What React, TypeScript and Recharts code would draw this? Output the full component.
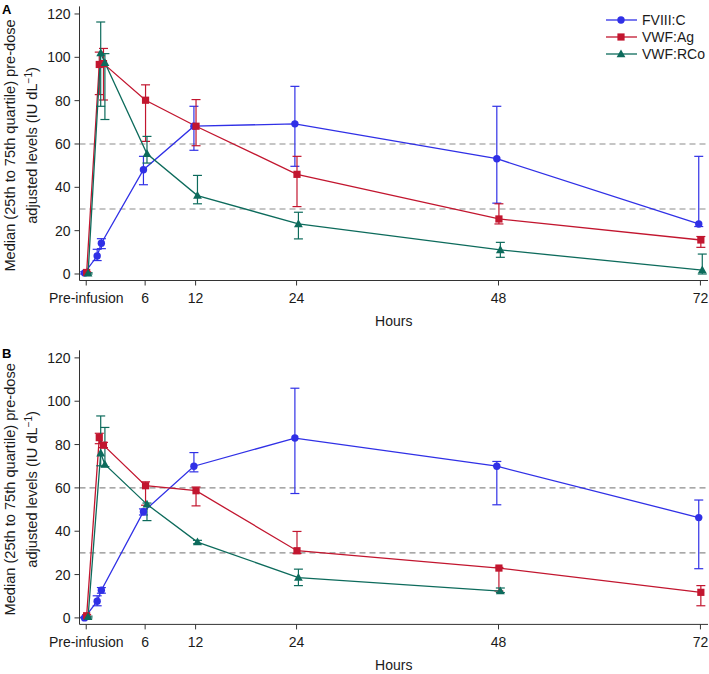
import React from 'react';
import { LineChart, Line, XAxis, YAxis, ErrorBar, ReferenceLine, Label } from 'recharts';

// sampling times in hours (pre-infusion drawn at -1)
const hours = [-1, 0.5, 1, 6, 12, 24, 48, 72];
const hourTicks = [-1, 6, 12, 24, 48, 72];
const levelTicks = [0, 20, 40, 60, 80, 100, 120];
const thresholds = [30, 60];
const seriesNames = ['FVIII:C', 'VWF:Ag', 'VWF:RCo'];

// Panel A
const aFviiiMedian = [0.5, 8.3, 14.2, 48.1, 68.2, 69.3, 53.2, 23.1];
const aFviiiQ25 = [0, 6.2, 11.7, 41.2, 57.1, 49.7, 32.7, 21.9];
const aFviiiQ75 = [1, 11.4, 16.3, 54.3, 77.4, 86.6, 77.4, 54.3];
const aAgMedian = [0.7, 96.7, 97.1, 80.2, 68.2, 46.0, 25.4, 15.7];
const aAgQ25 = [0.3, 82.8, 80.3, 61.2, 59.2, 31.1, 23.1, 12.3];
const aAgQ75 = [1, 102.4, 104.1, 87.3, 80.5, 54.3, 32.4, 17.3];
const aRcoMedian = [0.3, 102, 97.5, 55.5, 36.2, 23.1, 11.1, 1.8];
const aRcoQ25 = [0, 77.4, 71.3, 51.2, 32.4, 16.2, 7.7, 0];
const aRcoQ75 = [0.6, 116.3, 101.7, 63.5, 45.5, 28.5, 14.6, 9.2];

// Panel B
const bFviiiMedian = [0, 7.7, 12.8, 49, 70, 83, 70, 46.3];
const bFviiiQ25 = [0, 5.6, 11.4, 47.5, 67.4, 57.4, 52.2, 22.7];
const bFviiiQ75 = [0.3, 10.2, 14, 50.3, 76.3, 106, 72.2, 54.4];
const bAgMedian = [1, 83.2, 79.7, 61, 58.7, 31, 23, 11.8];
const bAgQ25 = [0.5, 80.4, 78.6, 52, 51.7, 29.7, 12.4, 5.6];
const bAgQ75 = [1.5, 85.2, 81, 62.8, 60.4, 39.9, 23.3, 14.9];
const bRcoMedian = [0.5, 76, 70.8, 52.4, 35, 18.6, 12.4];
const bRcoQ25 = [0, 70.2, 69.8, 44.9, 34.2, 14.9, 11.7];
const bRcoQ75 = [0.8, 93.2, 87.9, 53, 35.8, 22.5, 13.8];

const FONT = '"Liberation Sans", Arial, sans-serif';
const COLORS = ['#3030e6', '#c2162f', '#0d6b5c'];
const SHAPES = ['circle', 'square', 'triangle'];
const DODGE = [-0.2, 0.05, 0.22];

const toRows = (median: number[], q25: number[], q75: number[], dodge: number) =>
  median.map((v, i) => ({ hour: hours[i] + dodge, value: v, err: [v - q25[i], q75[i] - v] }));

const Marker = ({ shape, cx, cy, color }: any) => {
  if (shape === 'circle') return <circle cx={cx} cy={cy} r={3.7} fill={color} />;
  if (shape === 'square') return <rect x={cx - 3.6} y={cy - 3.6} width={7.2} height={7.2} fill={color} />;
  return <path d={`M${cx},${cy - 4.6}L${cx + 4.4},${cy + 3.2}L${cx - 4.4},${cy + 3.2}Z`} fill={color} />;
};

const YTitle = (props: any) => {
  const vb = props.viewBox || { y: 0, height: 0 };
  const cy = vb.y + vb.height / 2 + 2;
  return (
    <g fontFamily={FONT} fontSize={14.6} fill="#1a1a1a">
      <text x={15.5} y={cy} transform={`rotate(-90, 15.5, ${cy})`} textAnchor="middle">
        Median (25th to 75th quartile) pre-dose
      </text>
      <text x={37} y={cy} transform={`rotate(-90, 37, ${cy})`} textAnchor="middle">
        adjusted levels (IU dL<tspan fontSize={10} dy={-5}>−1</tspan>
        <tspan dy={5}>)</tspan>
      </text>
    </g>
  );
};

interface PanelProps {
  series: { rows: any[] }[];
  marginTop: number;
  marginBottom: number;
}

const Panel: React.FC<PanelProps> = ({ series, marginTop, marginBottom }) => (
  <LineChart
    width={709}
    height={337}
    margin={{ top: marginTop, right: 1, bottom: marginBottom, left: 34.5 }}
  >
    <XAxis
      type="number"
      dataKey="hour"
      domain={[-1.8, 72.9]}
      ticks={hourTicks}
      allowDuplicatedCategory={false}
      tickFormatter={(v: number) => (v === -1 ? 'Pre-infusion' : String(v))}
      height={30}
      tickSize={5}
      tickMargin={8}
      stroke="#333"
      tick={{ fontSize: 14, fill: '#1a1a1a', fontFamily: FONT }}
    >
      <Label value="Hours" position="bottom" offset={6} style={{ fontSize: 14, fill: '#1a1a1a', fontFamily: FONT }} />
    </XAxis>
    <YAxis
      type="number"
      domain={[-3, 123.5]}
      ticks={levelTicks}
      width={45}
      tickSize={5}
      tickMargin={4}
      stroke="#333"
      tick={{ fontSize: 14, fill: '#1a1a1a', fontFamily: FONT }}
    >
      <Label content={<YTitle />} />
    </YAxis>
    {thresholds.map((t) => (
      <ReferenceLine key={t} y={t} stroke="#8c8c8c" strokeWidth={1.2} strokeDasharray="6 4" />
    ))}
    {series.map((s, i) => (
      <Line
        key={seriesNames[i]}
        data={s.rows}
        dataKey="value"
        name={seriesNames[i]}
        stroke={COLORS[i]}
        strokeWidth={1.3}
        isAnimationActive={false}
        dot={(p: any) => <Marker key={`${i}-${p.index}`} shape={SHAPES[i]} cx={p.cx} cy={p.cy} color={COLORS[i]} />}
        activeDot={false}
      >
        <ErrorBar dataKey="err" direction="y" width={4.5} stroke={COLORS[i]} strokeWidth={1.2} />
      </Line>
    ))}
  </LineChart>
);

const Legend = () => (
  <div style={{ position: 'absolute', left: 606, top: 12, fontFamily: FONT, fontSize: 14, color: '#1a1a1a' }}>
    {seriesNames.map((n, i) => (
      <div key={n} style={{ display: 'flex', alignItems: 'center', height: 16.7 }}>
        <svg width={31} height={12}>
          <line x1={0} y1={6} x2={31} y2={6} stroke={COLORS[i]} strokeWidth={1.3} />
          <Marker shape={SHAPES[i]} cx={15} cy={6} color={COLORS[i]} />
        </svg>
        <span style={{ marginLeft: 5 }}>{n}</span>
      </div>
    ))}
  </div>
);

export default function App() {
  const panelA = [
    { rows: toRows(aFviiiMedian, aFviiiQ25, aFviiiQ75, DODGE[0]) },
    { rows: toRows(aAgMedian, aAgQ25, aAgQ75, DODGE[1]) },
    { rows: toRows(aRcoMedian, aRcoQ25, aRcoQ75, DODGE[2]) },
  ];
  const panelB = [
    { rows: toRows(bFviiiMedian, bFviiiQ25, bFviiiQ75, DODGE[0]) },
    { rows: toRows(bAgMedian, bAgQ25, bAgQ75, DODGE[1]) },
    { rows: toRows(bRcoMedian, bRcoQ25, bRcoQ75, DODGE[2]) },
  ];
  return (
    <div style={{ position: 'absolute', left: 0, top: 0, width: 709, height: 674, background: '#fff', fontFamily: FONT }}>
      <div style={{ position: 'absolute', left: 0, top: 0 }}>
        <Panel series={panelA} marginTop={6.4} marginBottom={26.5} />
      </div>
      <div style={{ position: 'absolute', left: 0, top: 337 }}>
        <Panel series={panelB} marginTop={13.3} marginBottom={19.6} />
      </div>
      <div style={{ position: 'absolute', left: 2, top: 2, fontWeight: 'bold', fontSize: 13 }}>A</div>
      <div style={{ position: 'absolute', left: 2, top: 346, fontWeight: 'bold', fontSize: 13 }}>B</div>
      <Legend />
    </div>
  );
}
